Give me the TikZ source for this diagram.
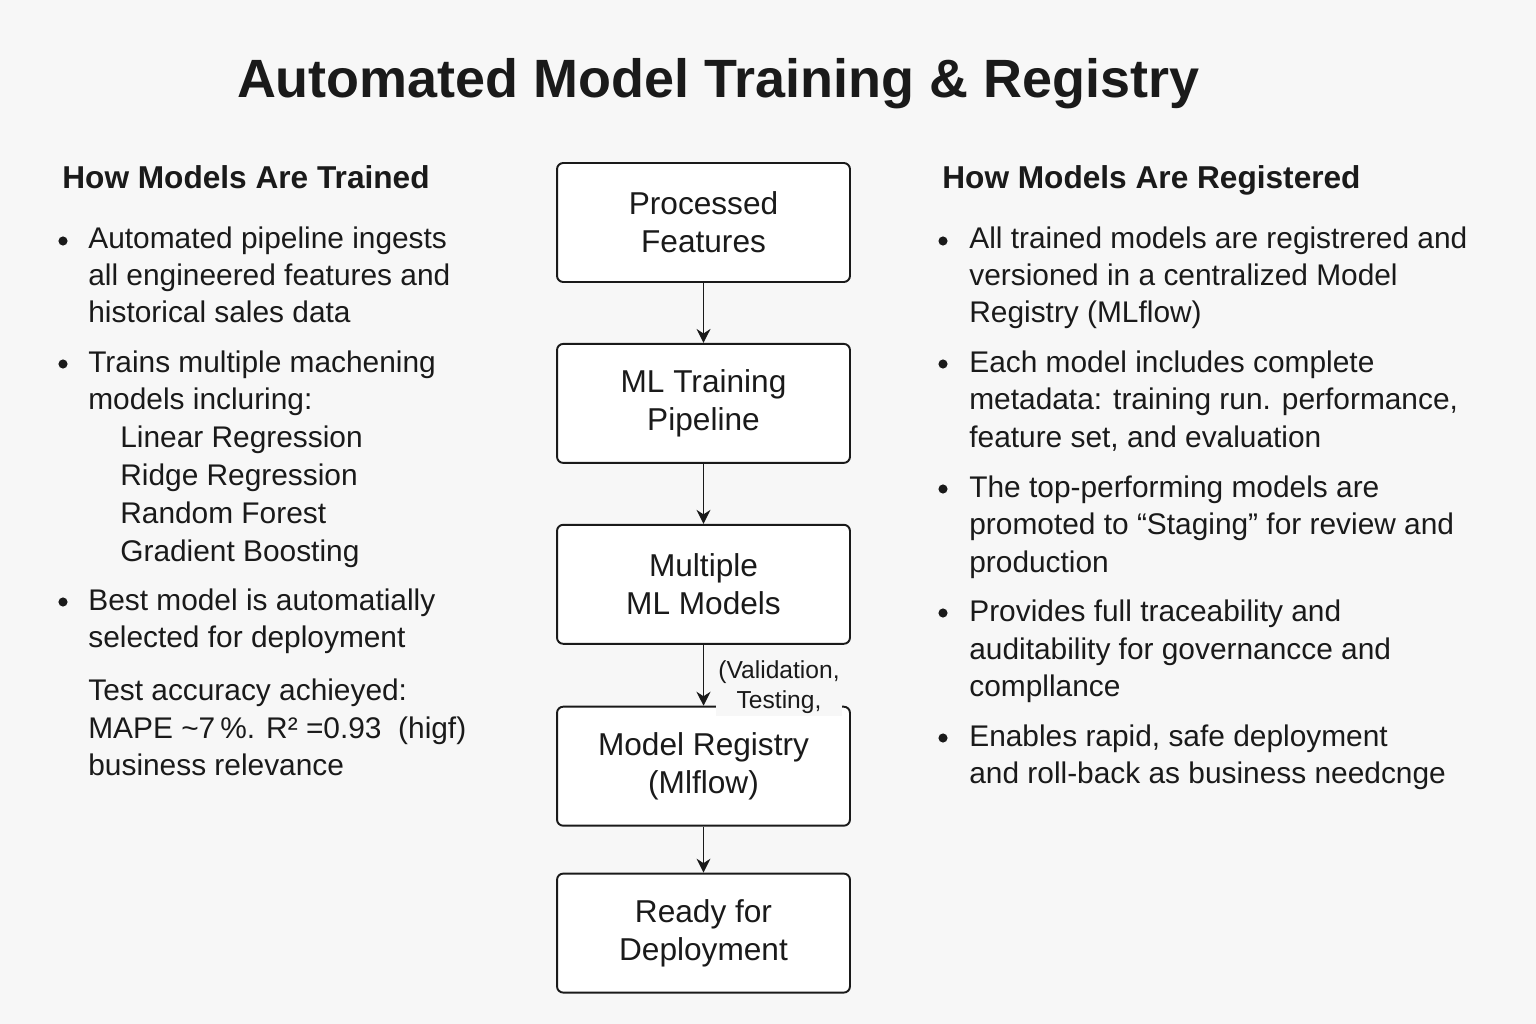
\documentclass[tikz,border=0pt]{standalone}
\usepackage{fontspec}
\setmainfont{Liberation Sans}
\usetikzlibrary{arrows.meta,positioning}

\definecolor{bgcol}{HTML}{F7F7F7}
\definecolor{inkcol}{HTML}{1A1A1A}

\tikzset{
  stage/.style={draw=inkcol, line width=1.1pt, rounded corners=3.5pt, fill=white,
    minimum width=5.86cm, minimum height=2.38cm, align=center, text=inkcol,
    font=\fontsize{18}{21.8}\selectfont},
  flow/.style={draw=inkcol, line width=0.75pt, -{Stealth[length=2.8mm,width=2.8mm]}},
  bodyline/.style={anchor=base west, inner sep=0pt, text=inkcol,
    font=\fontsize{17}{20}\selectfont},
  colhead/.style={anchor=base west, inner sep=0pt, text=inkcol,
    font=\fontsize{18}{22}\selectfont\bfseries},
}

\begin{document}
\begin{tikzpicture}[x=0.02cm,y=-0.02cm]
 \fill[bgcol] (0,0) rectangle (1536,1024);
 \useasboundingbox (0,0) rectangle (1536,1024);

 \node[anchor=base, inner sep=0pt, text=inkcol, font=\fontsize{30.7}{38}\selectfont\bfseries]
   (title) at (718,98) {Automated Model Training \& Registry};

 % centre column
 \node[stage] (feat) at (703.5,222.5) {Processed\\Features};
 \node[stage, below=1.20cm of feat] (train) {ML Training\\Pipeline};
 \node[stage, below=1.20cm of train] (models) {Multiple\\ML Models};
 \node[stage, below=1.22cm of models] (registry) {Model Registry\\(Mlflow)};
 \node[stage, below=0.92cm of registry] (deploy) {Ready for\\Deployment};
 \draw[flow] (feat) -- (train);
 \draw[flow] (train) -- (models);
 \draw[flow] (models) -- (registry);
 \draw[flow] (registry) -- (deploy);
 \node[fill=bgcol, inner sep=1.5pt, align=center, text=inkcol,
   font=\fontsize{14}{17}\selectfont] (valid) at (779,687) {(Validation,\\Testing,};

 % left column
 \node[colhead] (headl) at (62,189) {How Models Are Trained};
 \foreach \yy in {241,364,602} {\fill[inkcol] (63,\yy) circle (2.6pt);}
 \foreach \i/\xx/\yy/\txt in {1/88/249/{Automated pipeline ingests},
                              2/88/285/{all engineered features and},
                              3/88/322/{historical sales data},
                              4/88/372/{Trains multiple machening},
                              5/88/409/{models incluring:},
                              6/120/447/{Linear Regression},
                              7/120/485/{Ridge Regression},
                              8/120/523/{Random Forest},
                              9/120/561/{Gradient Boosting},
                              10/88/610/{Best model is automatially},
                              11/88/647/{selected for deployment},
                              12/88/700/{Test accuracy achieyed:},
                              13/88/738/{MAPE \textasciitilde7\,\%. R² =0.93 \ (higf)},
                              14/88/775/{business relevance}}{
   \node[bodyline] (lt-\i) at (\xx,\yy) {\txt};}

 % right column
 \node[colhead] (headr) at (942,189) {How Models Are Registered};
 \foreach \yy in {241,364,489,613,738} {\fill[inkcol] (943,\yy) circle (2.6pt);}
 \foreach \i/\yy/\txt in {1/249/{All trained models are registrered and},
                          2/285/{versioned in a centralized Model},
                          3/322/{Registry (MLflow)},
                          4/372/{Each model includes complete},
                          5/409/{metadata: training run. performance,},
                          6/447/{feature set, and evaluation},
                          7/497/{The top-performing models are},
                          8/534/{promoted to “Staging” for review and},
                          9/572/{production},
                          10/621/{Provides full traceability and},
                          11/659/{auditability for governancce and},
                          12/696/{compllance},
                          13/746/{Enables rapid, safe deployment},
                          14/783/{and roll-back as business needcnge}}{
   \node[bodyline] (rt-\i) at (969,\yy) {\txt};}
\end{tikzpicture}
\end{document}
